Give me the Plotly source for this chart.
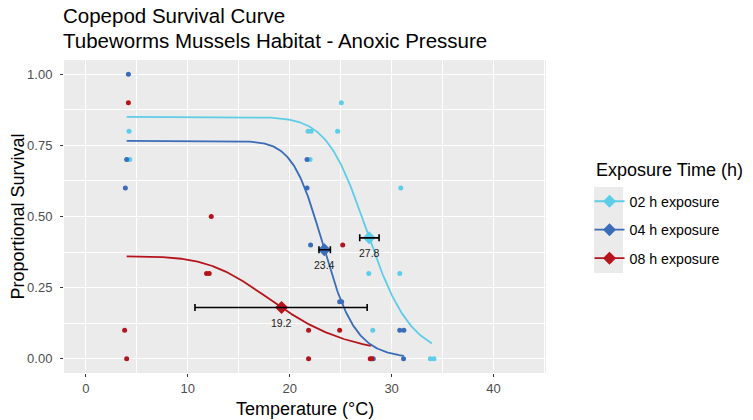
import numpy as np
import plotly.graph_objects as go

# ---------------- data ----------------
groups = ["02 h exposure", "04 h exposure", "08 h exposure"]
colors = ["#5DCDE8", "#3A6CB9", "#B5141C"]

# jittered observations: temperature (°C) and proportional survival
temp_02 = [4.23, 4.30, 21.8, 22.1, 24.7, 25.07, 22.0, 30.9, 27.76, 30.8, 28.15, 33.8, 34.15]
surv_02 = [0.80, 0.70, 0.80, 0.80, 0.80, 0.90, 0.70, 0.60, 0.30, 0.30, 0.10, 0.00, 0.00]

temp_04 = [4.17, 4.00, 3.87, 21.7, 21.7, 22.05, 24.9, 25.1, 30.8, 31.2, 28.2, 31.17]
surv_04 = [1.00, 0.70, 0.60, 0.70, 0.60, 0.40, 0.20, 0.20, 0.10, 0.10, 0.00, 0.00]

temp_08 = [4.17, 3.80, 4.00, 11.84, 12.1, 12.3, 25.2, 21.85, 24.9, 21.85, 27.9, 28.05]
surv_08 = [0.90, 0.10, 0.00, 0.30, 0.30, 0.50, 0.40, 0.10, 0.10, 0.00, 0.00, 0.00]

# fitted log-logistic curve parameters (upper limit, ED50, slope) and fitted range
upper = [0.85, 0.766, 0.36]
ed50 = [27.8, 23.4, 19.2]
slope = [13.4, 15.0, 5.18]
fit_min = [4.0, 4.0, 4.0]
fit_max = [33.95, 31.2, 27.95]

# ED50 confidence intervals (lower, upper)
ci_low = [26.87, 22.87, 10.70]
ci_high = [28.77, 23.99, 27.60]

title_lines = ["Copepod Survival Curve", "Tubeworms Mussels Habitat - Anoxic Pressure"]
legend_title = "Exposure Time (h)"
x_title = "Temperature (°C)"
y_title = "Proportional Survival"

temps = [temp_02, temp_04, temp_08]
survs = [surv_02, surv_04, surv_08]

FONT = "Liberation Sans, Arial, sans-serif"

# plot-area pixel geometry helpers (for paper-referenced decorations)
L, R, T, B = 64, 546, 60, 373
def px_x(p):
    return (p - L) / (R - L)
def px_y(p):
    return (B - p) / (B - T)

fig = go.Figure()

# fitted curves
for i in range(3):
    xs = np.linspace(fit_min[i], fit_max[i], 300)
    ys = upper[i] / (1 + np.exp(slope[i] * (np.log(xs) - np.log(ed50[i]))))
    fig.add_trace(go.Scatter(x=xs, y=ys, mode="lines",
                             line=dict(color=colors[i], width=1.8),
                             showlegend=False, hoverinfo="skip"))

# observations
for i in range(3):
    fig.add_trace(go.Scatter(x=temps[i], y=survs[i], mode="markers",
                             marker=dict(color=colors[i], size=5),
                             showlegend=False))

# ED50 diamonds (legend entries)
for i in range(3):
    fig.add_trace(go.Scatter(x=[ed50[i]], y=[upper[i] / 2], mode="lines+markers",
                             name=groups[i], legendgroup=groups[i],
                             marker=dict(color=colors[i], size=10, symbol="diamond"),
                             line=dict(color=colors[i], width=1.8)))

# error bars on top
for i in range(3):
    fig.add_trace(go.Scatter(x=[ed50[i]], y=[upper[i] / 2], mode="markers",
                             marker=dict(opacity=0, size=1),
                             error_x=dict(type="data", symmetric=False,
                                          array=[ci_high[i] - ed50[i]],
                                          arrayminus=[ed50[i] - ci_low[i]],
                                          color="black", thickness=1.6, width=3.5),
                             showlegend=False, hoverinfo="skip"))

# ED50 labels
for i in range(3):
    fig.add_annotation(x=ed50[i], y=upper[i] / 2, text=f"{ed50[i]:.1f}",
                       showarrow=False, yshift=-15,
                       font=dict(family=FONT, size=10.5, color="#1A1A1A"))

# title (two lines)
fig.add_annotation(xref="paper", yref="paper", x=px_x(61), y=px_y(16),
                   xanchor="left", yanchor="middle", showarrow=False,
                   text=title_lines[0], font=dict(family=FONT, size=20.5, color="black"))
fig.add_annotation(xref="paper", yref="paper", x=px_x(61), y=px_y(40),
                   xanchor="left", yanchor="middle", showarrow=False,
                   text=title_lines[1], font=dict(family=FONT, size=20.5, color="black"))

# axis titles
fig.add_annotation(xref="paper", yref="paper", x=0.5, y=px_y(409),
                   xanchor="center", yanchor="middle", showarrow=False,
                   text=x_title, font=dict(family=FONT, size=18, color="black"))
fig.add_annotation(xref="paper", yref="paper", x=px_x(17), y=0.5, textangle=-90,
                   xanchor="center", yanchor="middle", showarrow=False,
                   text=y_title, font=dict(family=FONT, size=18, color="black"))

# legend title
fig.add_annotation(xref="paper", yref="paper", x=px_x(594), y=px_y(170),
                   xanchor="left", yanchor="middle", showarrow=False,
                   text=legend_title, font=dict(family=FONT, size=18, color="black"))

# grey background behind legend keys
fig.add_shape(type="rect", xref="paper", yref="paper",
              x0=px_x(594), x1=px_x(623), y0=px_y(273), y1=px_y(187),
              fillcolor="#EBEBEB", line=dict(width=0), layer="below")

axis_common = dict(
    showgrid=True, gridcolor="white", gridwidth=1.1,
    zeroline=False, showline=False, automargin=False,
    ticks="outside", ticklen=3, tickwidth=1, tickcolor="#333333",
    tickfont=dict(family=FONT, size=13, color="#4D4D4D"),
)

fig.update_layout(
    width=753, height=420,
    margin=dict(l=L, r=753 - R, t=T, b=420 - B, autoexpand=False),
    paper_bgcolor="white", plot_bgcolor="#EBEBEB",
    font=dict(family=FONT),
    xaxis=dict(range=[-2.15, 45.15], tickmode="linear", tick0=0, dtick=10,
               ticklabelstandoff=0,
               minor=dict(showgrid=True, gridcolor="white", gridwidth=0.55, tick0=0, dtick=5),
               **axis_common),
    yaxis=dict(range=[-0.05, 1.05], tickmode="linear", tick0=0, dtick=0.25, tickformat=".2f",
               ticklabelstandoff=5,
               minor=dict(showgrid=True, gridcolor="white", gridwidth=0.55, tick0=0, dtick=0.125),
               **axis_common),
    legend=dict(
        font=dict(family=FONT, size=14.2, color="black"),
        x=px_x(589.5), xanchor="left",
        y=px_y(185.5), yanchor="top",
        bgcolor="rgba(0,0,0,0)", tracegroupgap=7,
        traceorder="grouped",
    ),
)

fig.write_html("out.html")
